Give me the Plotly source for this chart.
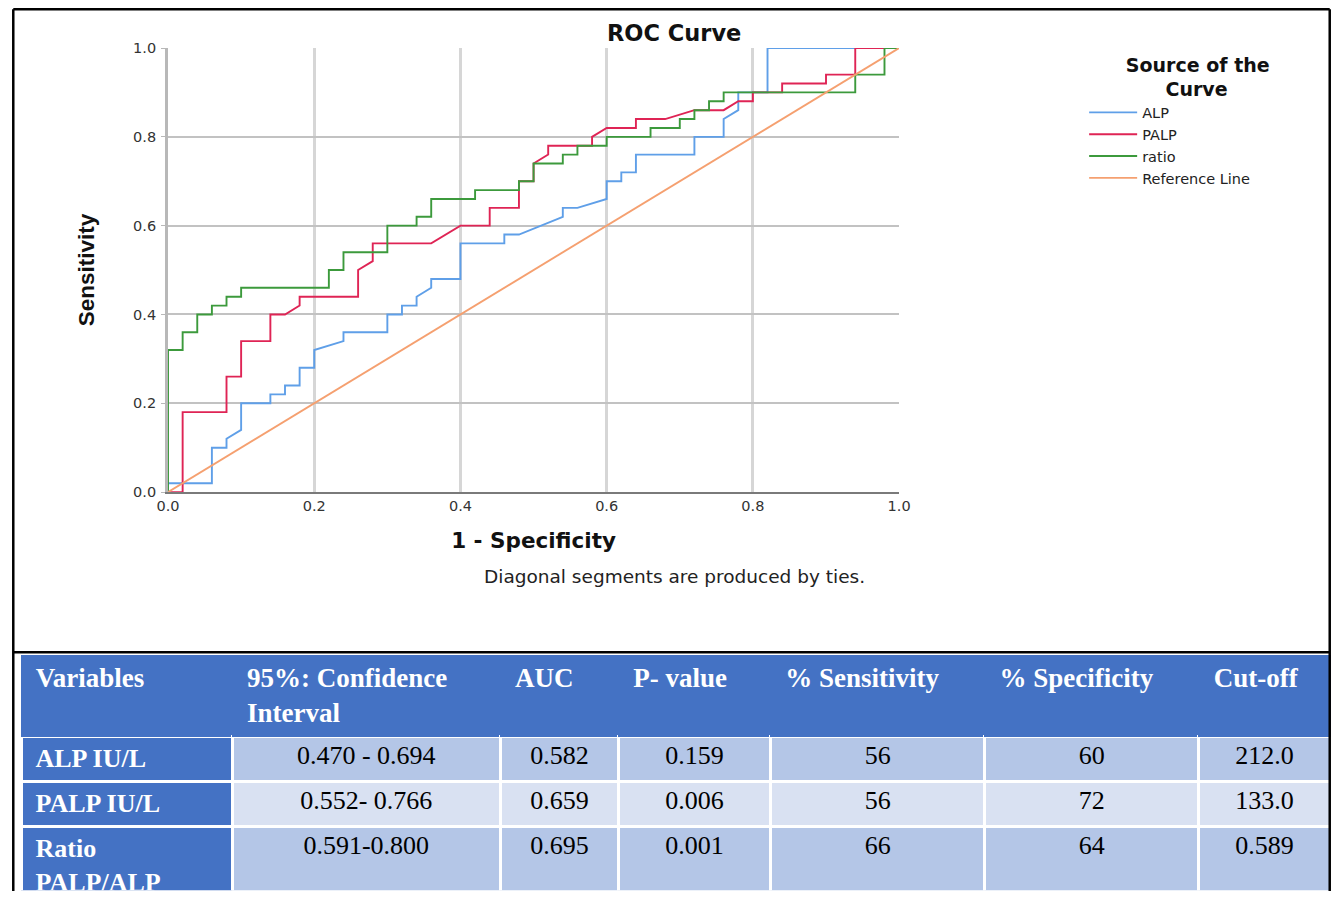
import plotly.graph_objects as go

W, H = 1343, 899
# The rendered page is shown shrunk by ~0.982 with a small offset; the helpers below convert
# a position measured on the reference picture into a paper fraction.
S, OX, OY = 0.982, 11.0, 8.0


def fx(x):
    return min(max(((x - OX) / S) / W, 0.0), 1.0)


def fy(y):
    return min(max(1 - ((y - OY) / S) / H, 0.0), 1.0)


# ---------------- ROC data (1 - specificity, sensitivity) ----------------
alp_fpr = [0, 0, 0.06, 0.06, 0.08, 0.08, 0.10, 0.10, 0.14, 0.14, 0.16, 0.16, 0.18, 0.18, 0.20, 0.20,
           0.24, 0.24, 0.30, 0.30, 0.32, 0.32, 0.34, 0.34, 0.36, 0.36, 0.40, 0.40, 0.46, 0.46, 0.48,
           0.54, 0.54, 0.56, 0.60, 0.60, 0.62, 0.62, 0.64, 0.64, 0.72, 0.72, 0.76, 0.76, 0.78, 0.78,
           0.82, 0.82, 1.0]
alp_tpr = [0, 0.02, 0.02, 0.10, 0.10, 0.12, 0.14, 0.20, 0.20, 0.22, 0.22, 0.24, 0.24, 0.28, 0.28, 0.32,
           0.34, 0.36, 0.36, 0.40, 0.40, 0.42, 0.42, 0.44, 0.46, 0.48, 0.48, 0.56, 0.56, 0.58, 0.58,
           0.62, 0.64, 0.64, 0.66, 0.70, 0.70, 0.72, 0.72, 0.76, 0.76, 0.80, 0.80, 0.84, 0.86, 0.90,
           0.90, 1.0, 1.0]

palp_fpr = [0, 0.02, 0.02, 0.08, 0.08, 0.10, 0.10, 0.14, 0.14, 0.16, 0.18, 0.18, 0.26, 0.26, 0.28, 0.28,
            0.36, 0.40, 0.44, 0.44, 0.48, 0.48, 0.50, 0.50, 0.52, 0.52, 0.58, 0.58, 0.60, 0.64, 0.64,
            0.68, 0.72, 0.76, 0.78, 0.80, 0.80, 0.84, 0.84, 0.90, 0.90, 0.94, 0.94, 1.0]
palp_tpr = [0, 0, 0.18, 0.18, 0.26, 0.26, 0.34, 0.34, 0.40, 0.40, 0.42, 0.44, 0.44, 0.50, 0.52, 0.56,
            0.56, 0.60, 0.60, 0.64, 0.64, 0.70, 0.70, 0.74, 0.76, 0.78, 0.78, 0.80, 0.82, 0.82, 0.84,
            0.84, 0.86, 0.86, 0.88, 0.88, 0.90, 0.90, 0.92, 0.92, 0.94, 0.94, 1.0, 1.0]

ratio_fpr = [0, 0, 0.02, 0.02, 0.04, 0.04, 0.06, 0.06, 0.08, 0.08, 0.10, 0.10, 0.22, 0.22, 0.24, 0.24,
             0.30, 0.30, 0.34, 0.34, 0.36, 0.36, 0.42, 0.42, 0.48, 0.48, 0.50, 0.50, 0.54, 0.54, 0.56,
             0.56, 0.60, 0.60, 0.66, 0.66, 0.70, 0.70, 0.72, 0.72, 0.74, 0.74, 0.76, 0.76, 0.94, 0.94,
             0.98, 0.98, 1.0]
ratio_tpr = [0, 0.32, 0.32, 0.36, 0.36, 0.40, 0.40, 0.42, 0.42, 0.44, 0.44, 0.46, 0.46, 0.50, 0.50, 0.54,
             0.54, 0.60, 0.60, 0.62, 0.62, 0.66, 0.66, 0.68, 0.68, 0.70, 0.70, 0.74, 0.74, 0.76, 0.76,
             0.78, 0.78, 0.80, 0.80, 0.82, 0.82, 0.84, 0.84, 0.86, 0.86, 0.88, 0.88, 0.90, 0.90, 0.94,
             0.94, 1.0, 1.0]

ref_x = [0, 1]
ref_y = [0, 1]

tick_vals = [0.0, 0.2, 0.4, 0.6, 0.8, 1.0]
tick_text = ["0.0", "0.2", "0.4", "0.6", "0.8", "1.0"]

# ---------------- table data ----------------
tbl_headers = ["Variables", "95%: Confidence<br>Interval", "AUC", "P- value",
               "% Sensitivity", "% Specificity", "Cut-off"]
tbl_variables = ["ALP IU/L", "PALP IU/L", "Ratio<br>PALP/ALP"]
tbl_ci = ["0.470 - 0.694", "0.552- 0.766", "0.591-0.800"]
tbl_auc = ["0.582", "0.659", "0.695"]
tbl_p = ["0.159", "0.006", "0.001"]
tbl_sens = ["56", "56", "66"]
tbl_spec = ["60", "72", "64"]
tbl_cutoff = ["212.0", "133.0", "0.589"]

BLUE = "#4472C4"
ROW_A = "#B4C6E7"
ROW_B = "#D9E1F2"
CHART_FONT = "DejaVu Sans, Verdana, Arial, sans-serif"
SERIF = "Liberation Serif, Times New Roman, serif"
NB = "\u00a0"

fig = go.Figure()

line_w = 1.9
fig.add_trace(go.Scatter(x=alp_fpr, y=alp_tpr, mode="lines", name="ALP",
                         line=dict(color="#5f9fe8", width=line_w), cliponaxis=False))
fig.add_trace(go.Scatter(x=palp_fpr, y=palp_tpr, mode="lines", name="PALP",
                         line=dict(color="#df2455", width=line_w), cliponaxis=False))
fig.add_trace(go.Scatter(x=ratio_fpr, y=ratio_tpr, mode="lines", name="ratio",
                         line=dict(color="#3c9a3c", width=line_w), cliponaxis=False))
fig.add_trace(go.Scatter(x=ref_x, y=ref_y, mode="lines", name="Reference Line",
                         line=dict(color="#f5a070", width=line_w), cliponaxis=False))

# table
fill_cols = [[BLUE] * 3] + [[ROW_A, ROW_B, ROW_A]] * 6
font_cols = [["white"] * 3] + [["black"] * 3] * 6
hdr = ["<b>%s</b>" % (NB + h.replace("<br>", "<br>" + NB)) for h in tbl_headers]
first_col = ["<b>%s</b>" % (NB + v.replace("<br>", "<br>" + NB)) for v in tbl_variables]
fig.add_trace(go.Table(
    domain=dict(x=[fx(20), 1.0], y=[0, fy(655)]),
    columnwidth=[211, 268, 118, 152, 214, 214, 131],
    header=dict(values=hdr,
                fill_color=BLUE, line=dict(color=BLUE, width=1),
                font=dict(family=SERIF, size=27, color="white"),
                align="left", height=78),
    cells=dict(values=[first_col, tbl_ci, tbl_auc, tbl_p, tbl_sens, tbl_spec, tbl_cutoff],
               fill_color=fill_cols, line=dict(color="white", width=3),
               font=dict(family=SERIF, size=26, color=font_cols),
               align=["left", "center", "center", "center", "center", "center", "center"],
               height=42),
))

# plot area in reference pixels: x 167..898, y 48..492
fig.update_layout(
    width=W, height=H,
    margin=dict(l=0, r=0, t=0, b=0),
    paper_bgcolor="white", plot_bgcolor="white",
    title=dict(text="<b>ROC Curve</b>", x=fx(673), xanchor="center", y=fy(41), yanchor="middle",
               font=dict(family=CHART_FONT, size=22.5, color="#111")),
    xaxis=dict(domain=[fx(167), fx(898)], range=[0, 1], tickvals=tick_vals, ticktext=tick_text,
               showgrid=True, gridcolor="#d6d6d6", gridwidth=3,
               zeroline=False, showline=True, linecolor="#7a7a7a", linewidth=2,
               ticks="", tickfont=dict(family=CHART_FONT, size=14.5, color="#333"),
               title=dict(text="<b>1 - Specificity</b>", standoff=19,
                          font=dict(family=CHART_FONT, size=21.5, color="#111"))),
    yaxis=dict(domain=[fy(492), fy(48)], range=[0, 1], tickvals=tick_vals, ticktext=tick_text,
               showgrid=True, gridcolor="#c2c2c2", gridwidth=1.5,
               zeroline=False, showline=True, linecolor="#b8b8b8", linewidth=3,
               ticks="outside", ticklen=4, tickcolor="#b8b8b8", tickwidth=1,
               ticklabelstandoff=2,
               tickfont=dict(family=CHART_FONT, size=14.5, color="#333"),
               title=dict(text="<b>Sensitivity</b>", standoff=33,
                          font=dict(family="Liberation Sans Narrow, Arial Narrow, Liberation Sans, Arial",
                                    size=22.5, color="#111"))),
    legend=dict(x=fx(1083), xanchor="left", y=fy(47), yanchor="top",
                bgcolor="rgba(0,0,0,0)", tracegroupgap=0, itemwidth=48,
                font=dict(family=CHART_FONT, size=14.5, color="#222"),
                title=dict(text="<b>" + NB * 6 + "Source of the<br>" + NB * 12 + "Curve</b>", side="top",
                           font=dict(family=CHART_FONT, size=19, color="#111"))),
    showlegend=True,
)

fig.add_annotation(text="Diagonal segments are produced by ties.", xref="paper", yref="paper",
                   x=fx(673), y=fy(576), xanchor="center", yanchor="middle", showarrow=False,
                   font=dict(family=CHART_FONT, size=18.5, color="#222"))

# outer black frame (document table borders)
frame = dict(color="black", width=2.5)
x_l, x_r, y_t = 1.3 / W, 1 - 1.3 / W, 1 - 1.3 / H
fig.add_shape(type="line", xref="paper", yref="paper", x0=x_l, x1=x_r, y0=y_t, y1=y_t, line=frame)
fig.add_shape(type="line", xref="paper", yref="paper", x0=x_l, x1=x_r, y0=fy(652), y1=fy(652), line=frame)
fig.add_shape(type="line", xref="paper", yref="paper", x0=x_l, x1=x_l, y0=y_t, y1=0, line=frame)
fig.add_shape(type="line", xref="paper", yref="paper", x0=x_r, x1=x_r, y0=y_t, y1=0, line=frame)

fig.write_html("out.html", config={"displayModeBar": False},
               post_script="document.body.style.margin='0';document.documentElement.style.overflow='hidden';")
